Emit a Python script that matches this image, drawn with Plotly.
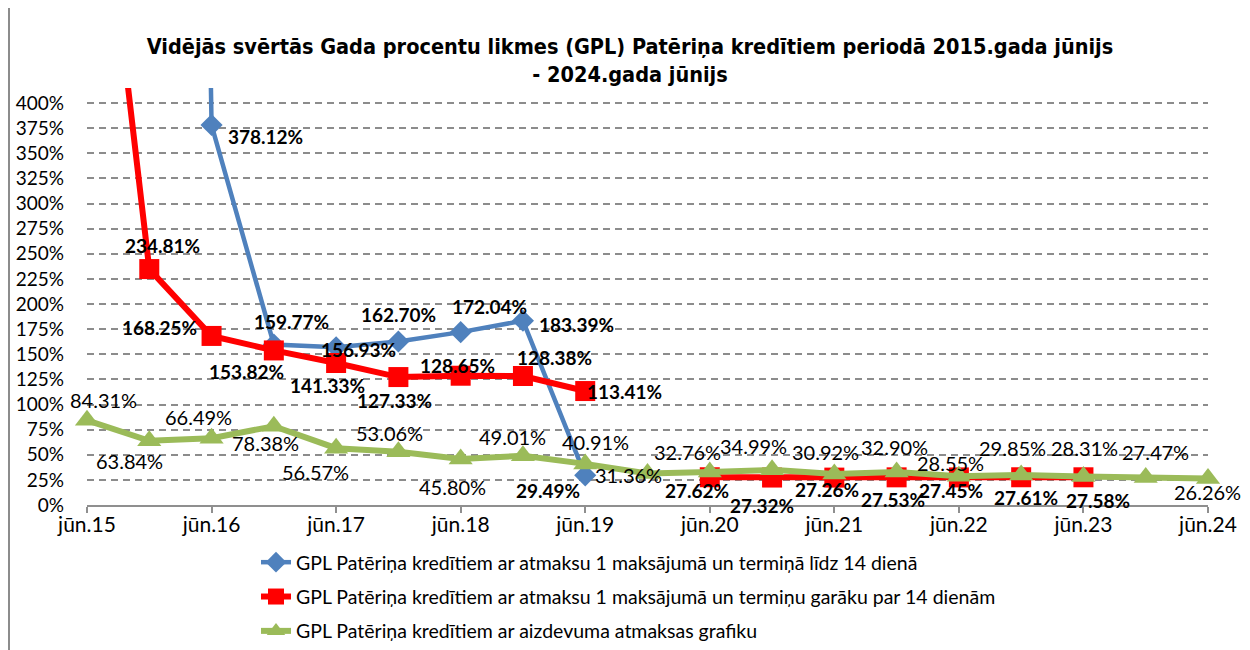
import plotly.graph_objects as go

# ---- data ----
periods = ["jūn.15", "dec.15", "jūn.16", "dec.16", "jūn.17", "dec.17", "jūn.18", "dec.18",
           "jūn.19", "dec.19", "jūn.20", "dec.20", "jūn.21", "dec.21", "jūn.22", "dec.22",
           "jūn.23", "dec.23", "jūn.24"]
tick_labels = ["jūn.15", "jūn.16", "jūn.17", "jūn.18", "jūn.19", "jūn.20", "jūn.21", "jūn.22", "jūn.23", "jūn.24"]

blue_name = "GPL Patēriņa kredītiem ar atmaksu 1 maksājumā un termiņā līdz 14 dienā"
red_name = "GPL Patēriņa kredītiem ar atmaksu 1 maksājumā un termiņu garāku par 14 dienām"
green_name = "GPL Patēriņa kredītiem ar aizdevuma atmaksas grafiku"

blue_vals = [None, 4000.0, 378.12, 159.77, 156.93, 162.70, 172.04, 183.39, 29.49,
             None, None, None, None, None, None, None, None, None, None]
red_vals = [765.0, 234.81, 168.25, 153.82, 141.33, 127.33, 128.65, 128.38, 113.41,
            None, 27.62, 27.32, 27.26, 27.53, 27.45, 27.61, 27.58, None, None]
green_vals = [84.31, 63.84, 66.49, 78.38, 56.57, 53.06, 45.80, 49.01, 40.91, 31.36,
              32.76, 34.99, 30.92, 32.90, 28.55, 29.85, 28.31, 27.47, 26.26]

# ---- label offsets (pixels, style only) ----
blue_off = [None, None, (54, 11), (18, -23), (22, 2), (0, -27), (29, -26), (54, 4), (-37, 15),
            None, None, None, None, None, None, None, None, None, None]
red_off = [None, (13, -24), (-52, -8), (-27, 21), (-9, 23), (-4, 23), (-3, -10), (32, -19), (39, 0),
           None, (-13, 13), (-10, 28), (-7, 12), (-4, 22), (-8, 13), (5, 20), (15, 23), None, None]
green_off = [(16, -20), (-20, 20), (-13, -21), (-8, 17), (-21, 24), (-9, -19), (-8, 28), (-10, -19),
             (10, -22), (-19, 2), (-22, -20), (-19, -24), (-9, -22), (-2, -25), (-8, -13), (-9, -27),
             (1, -29), (10, -25), (-1, 13)]

YMAX = 415
xs = list(range(len(periods)))

fig = go.Figure()
series = [
    (blue_name, blue_vals, "#4F81BD", "diamond", 17, 4.5, "g1"),
    (red_name, red_vals, "#FF0000", "square", 20, 6, "g2"),
    (green_name, green_vals, "#9BBB59", "triangle-up", 21, 6, "g3"),
]
for name, vals, col, sym, msz, lw, grp in series:
    fig.add_trace(go.Scatter(
        x=xs, y=vals, name=name, mode="lines+markers",
        line=dict(color=col, width=lw),
        marker=dict(symbol=sym, size=msz, color=col),
        connectgaps=False, cliponaxis=False, legendgroup=grp,
        hoverinfo="skip",
    ))

LBL_FONT = "Lato, 'Open Sans', sans-serif"
annotations = []
for vals, offs, bold in [(blue_vals, blue_off, True), (red_vals, red_off, True), (green_vals, green_off, False)]:
    for i, v in enumerate(vals):
        if v is None or v > 400 or offs[i] is None:
            continue
        dx, dy = offs[i]
        txt = f"{v:.2f}%"
        annotations.append(dict(
            x=i, y=v, xref="x", yref="y", text=(f"<b>{txt}</b>" if bold else txt),
            showarrow=False, xshift=dx, yshift=-dy,
            font=dict(family=LBL_FONT, size=19 if bold else 20, color="#000000"),
        ))

# page offset of the figure inside the html body
OFF = 8
W, H = 1250, 650
L, R, T, B = 87 - OFF, W - (1208 - OFF), 88 - OFF, H - (505 - OFF)
pw, ph = W - L - R, H - T - B


def px2x(p):  # page pixel -> paper x
    return (p - OFF - L) / pw


def py2y(p):  # page pixel -> paper y
    return (H - B - (p - OFF)) / ph


fig.update_layout(
    width=W, height=H,
    margin=dict(l=L, r=R, t=T, b=B, autoexpand=False),
    paper_bgcolor="white", plot_bgcolor="white",
    title=dict(
        text="<b>Vidējās svērtās Gada procentu likmes (GPL) Patēriņa kredītiem periodā 2015.gada jūnijs<br>- 2024.gada jūnijs</b>",
        x=(630 - OFF) / W, xanchor="center", y=1 - 46 / H, yanchor="top", xref="container", yref="container",
        font=dict(family="'Liberation Sans Narrow', 'DejaVu Sans Condensed', sans-serif", size=21.5, color="#000000"),
    ),
    font=dict(family=LBL_FONT, color="#000000"),
    showlegend=True,
    legend=dict(
        x=px2x(256), y=py2y(543), xanchor="left", yanchor="top",
        font=dict(family=LBL_FONT, size=19.5, color="#000000"),
        tracegroupgap=6, bgcolor="rgba(0,0,0,0)",
    ),
    xaxis=dict(
        range=[0, 18], tickmode="array", tickvals=list(range(0, 19, 2)), ticktext=tick_labels,
        showgrid=False, zeroline=False, showline=True, linecolor="#8f8f8f", linewidth=1.5,
        ticks="outside", ticklen=6, tickcolor="#8f8f8f", tickwidth=1.5,
        ticklabelstandoff=-6,
        tickfont=dict(family=LBL_FONT, size=21, color="#000000"),
        fixedrange=True,
    ),
    yaxis=dict(
        range=[0, YMAX], tickmode="array", tickvals=list(range(0, 401, 25)),
        ticktext=[f"{t}%" for t in range(0, 401, 25)],
        showgrid=True, gridcolor="#8c8c8c", gridwidth=1.5, griddash="7px,5px",
        zeroline=False, showline=False, ticks="",
        ticklabelstandoff=22,
        tickfont=dict(family=LBL_FONT, size=19, color="#000000"),
        fixedrange=True,
    ),
    annotations=annotations,
    shapes=[dict(type="rect", xref="paper", yref="paper",
                 x0=(1 - L) / pw, x1=(W + 20 - L) / pw, y0=-(B + 20) / ph, y1=(H - T - 1) / ph,
                 line=dict(color="#8c8c8c", width=2), fillcolor="rgba(0,0,0,0)", layer="below")],
)

fig.write_html("out.html")
